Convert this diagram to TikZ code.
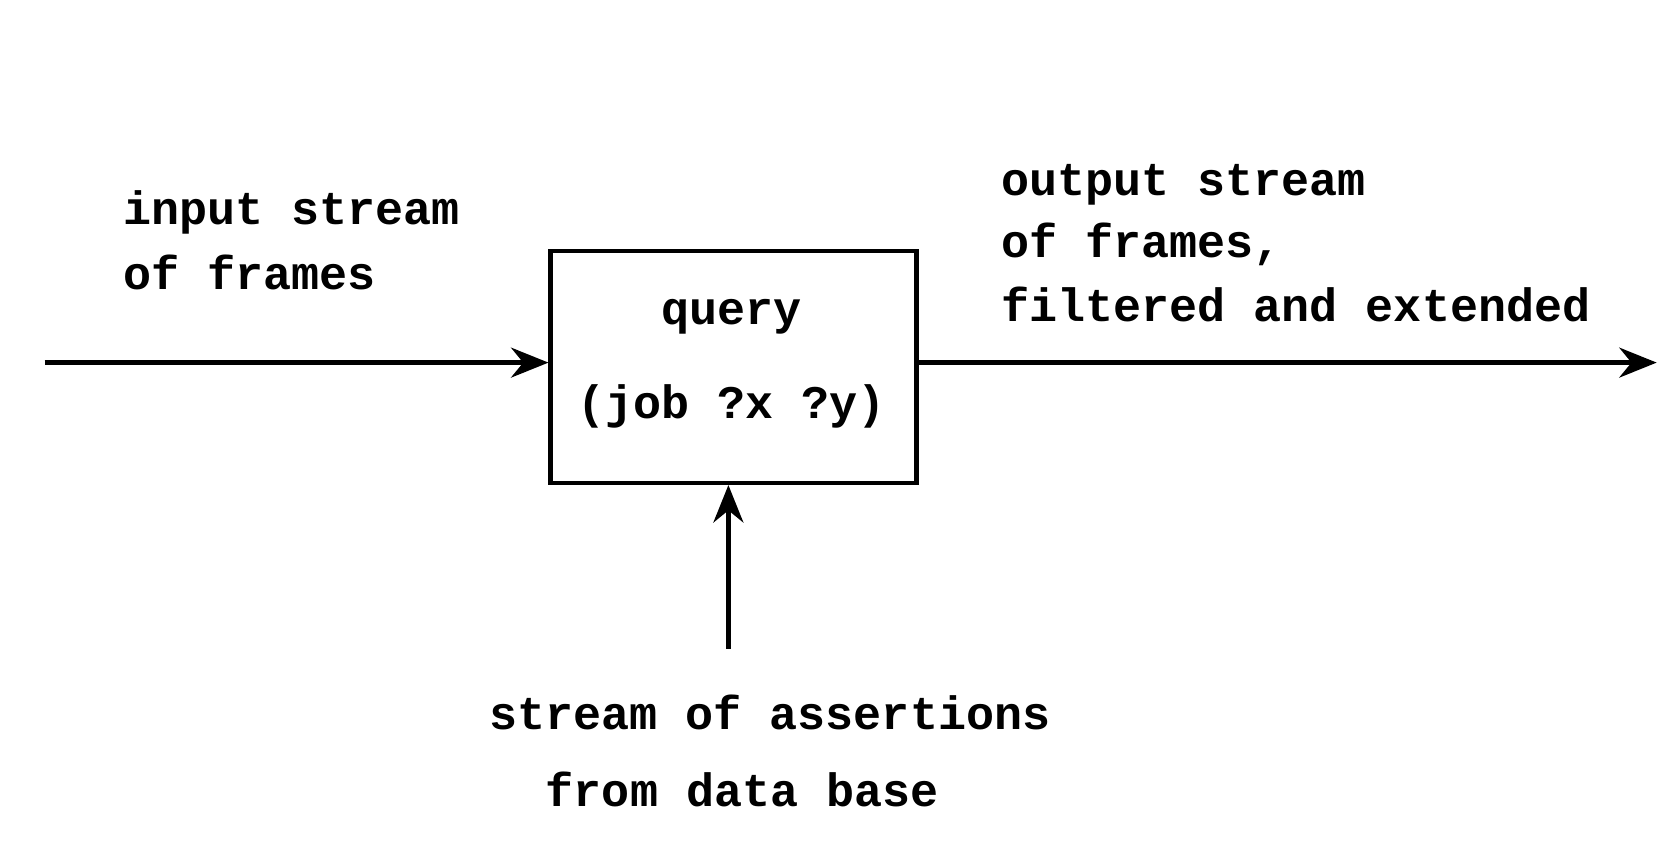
\documentclass[tikz,border=0pt]{standalone}
\usepackage{fontspec}
\setmonofont{Liberation Mono}
\usetikzlibrary{arrows.meta}
\begin{document}
\begin{tikzpicture}[x=0.01cm,y=-0.01cm,
  lbl/.style={font=\fontsize{12.5pt}{14pt}\ttfamily\bfseries, inner sep=0pt},
  arr/.style={-{Stealth[length=10pt,width=8pt]}, line width=1.2pt}]
\useasboundingbox (0,0) rectangle (1563,790);
\node[draw, line width=1.2pt, minimum width=3.44cm, minimum height=2.18cm, inner sep=0pt] (q) at (690,345) {};
\node[lbl] (qt) at (688,298) {query};
\node[lbl] (qa) at (688,382) {(job ?x ?y)};
\coordinate (l) at (42,341);
\coordinate (r) at (1558,341);
\coordinate (b) at (685,610);
\draw[arr] (l) -- (l -| q.west);
\draw[arr] (q.east |- l) -- (r);
\draw[arr] (b) -- (b |- q.south);
\node[lbl, anchor=west] (i1) at (115,200) {input stream};
\node[lbl, anchor=west] (i2) at (115,256) {of frames};
\node[lbl, anchor=west] (o1) at (941,174) {output stream};
\node[lbl, anchor=west] (o2) at (941,230) {of frames,};
\node[lbl, anchor=west] (o3) at (941,286) {filtered and extended};
\node[lbl] (s1) at (724,670) {stream of assertions};
\node[lbl] (s2) at (698,742) {from data base};
\end{tikzpicture}
\end{document}
